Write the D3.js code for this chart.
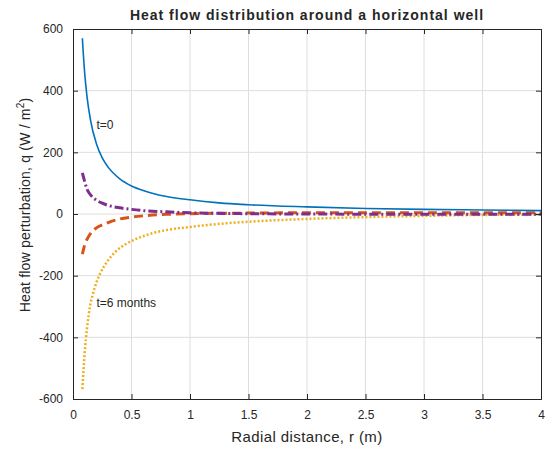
<!DOCTYPE html>
<html>
<head>
<meta charset="utf-8">
<script src="https://cdn.jsdelivr.net/npm/d3@7"></script>
<style>
  body { margin: 0; background: #fff; }
  text { font-family: "Liberation Sans", Arial, sans-serif; fill: #262626; }
</style>
</head>
<body>
<svg id="chart" width="552" height="454"></svg>
<script>
// values
var xTicks = [0, 0.5, 1, 1.5, 2, 2.5, 3, 3.5, 4];
var yTicks = [-600, -400, -200, 0, 200, 400, 600];

var rBlue = [0.08, 0.1, 0.12, 0.15, 0.2, 0.25, 0.3, 0.4, 0.5, 0.6, 0.7, 0.8, 1, 1.25, 1.5, 2, 2.5, 3, 3.5, 4];
var qBlue = [570, 456, 380, 304, 228, 182, 152, 114, 91, 76, 65, 57, 46, 36, 30, 23, 18, 15, 13, 11];

var rPurple = [0.08, 0.1, 0.12, 0.15, 0.2, 0.25, 0.3, 0.4, 0.5, 0.6, 0.8, 1, 1.5, 2, 3, 4];
var qPurple = [133, 105, 80, 62, 45, 35, 28, 20, 15, 11, 7, 4, 1, 0, -1, -1];

var rRed = [0.08, 0.1, 0.13, 0.16, 0.2, 0.26, 0.3, 0.4, 0.5, 0.6, 0.8, 1, 1.5, 2, 3, 4];
var qRed = [-130, -100, -75, -58, -45, -34, -28, -16, -10, -6, -1, 1, 3, 4, 4, 4];

var rYellow = [0.08, 0.1, 0.12, 0.145, 0.17, 0.2, 0.23, 0.3, 0.37, 0.45, 0.52, 0.6, 0.7, 0.8, 1, 1.25, 1.5, 1.75, 2, 2.5, 3, 3.5, 4];
var qYellow = [-568, -450, -370, -300, -260, -222, -195, -150, -120, -98, -84, -72, -60, -52, -42, -32, -25, -20, -16, -10, -6, -3, -2];

var margin = { left: 73, right: 11, top: 29, bottom: 55 },
    width = 552 - margin.left - margin.right,
    height = 454 - margin.top - margin.bottom;

var svg = d3.select('#chart');
var g = svg.append('g').attr('transform', 'translate(' + margin.left + ',' + margin.top + ')');

var x = d3.scaleLinear().domain([0, 4]).range([0, width]);
var y = d3.scaleLinear().domain([-600, 600]).range([height, 0]);

// plain hyphen minus, like the original
function fmt(d) { return String(d); }

// grid
g.append('g').selectAll('line').data(xTicks.slice(1, -1)).enter().append('line')
  .attr('x1', function(d) { return x(d); }).attr('x2', function(d) { return x(d); })
  .attr('y1', 0).attr('y2', height)
  .attr('stroke', '#dedede').attr('stroke-width', 1);
g.append('g').selectAll('line').data(yTicks.slice(1, -1)).enter().append('line')
  .attr('y1', function(d) { return y(d); }).attr('y2', function(d) { return y(d); })
  .attr('x1', 0).attr('x2', width)
  .attr('stroke', '#dedede').attr('stroke-width', 1);

// curves
var series = [
  { r: rYellow, q: qYellow, color: '#EDB120', w: 2.5, dash: '2,2' },
  { r: rRed, q: qRed, color: '#D95319', w: 3, dash: '9,5' },
  { r: rPurple, q: qPurple, color: '#7E2F8E', w: 3, dash: '9,3,2,3' },
  { r: rBlue, q: qBlue, color: '#0072BD', w: 1.6, dash: null }
];

var line = d3.line()
  .x(function(d) { return x(d[0]); })
  .y(function(d) { return y(d[1]); })
  .curve(d3.curveMonotoneX);

series.forEach(function(s) {
  var pts = s.r.map(function(r, i) { return [r, s.q[i]]; });
  g.append('path').datum(pts)
    .attr('d', line)
    .attr('fill', 'none')
    .attr('stroke', s.color)
    .attr('stroke-width', s.w)
    .attr('stroke-dasharray', s.dash);
});

// axes
var ax = g.append('g').attr('transform', 'translate(0,' + height + ')')
  .call(d3.axisBottom(x).tickValues(xTicks).tickSize(-5).tickPadding(11).tickFormat(fmt));
var ay = g.append('g')
  .call(d3.axisLeft(y).tickValues(yTicks).tickSize(-5).tickPadding(10).tickFormat(fmt));
var axTop = g.append('g')
  .call(d3.axisTop(x).tickValues(xTicks).tickSize(-5).tickFormat(''));
var ayRight = g.append('g').attr('transform', 'translate(' + width + ',0)')
  .call(d3.axisRight(y).tickValues(yTicks).tickSize(-5).tickFormat(''));

[ax, ay, axTop, ayRight].forEach(function(a) {
  a.selectAll('path').attr('stroke', '#262626');
  a.selectAll('line').attr('stroke', '#262626');
  a.selectAll('text').attr('font-size', 12).attr('fill', '#262626')
    .style('font-family', '"Liberation Sans", Arial, sans-serif');
});

// title and labels
svg.append('text').attr('x', 307).attr('y', 20)
  .attr('text-anchor', 'middle').attr('font-size', 14).attr('font-weight', 'bold')
  .attr('letter-spacing', 1)
  .text('Heat flow distribution around a horizontal well');

svg.append('text').attr('x', 307).attr('y', 442)
  .attr('text-anchor', 'middle').attr('font-size', 15).attr('letter-spacing', 0.4)
  .text('Radial distance, r (m)');

var yl = svg.append('text')
  .attr('transform', 'translate(30,205) rotate(-90)')
  .attr('text-anchor', 'middle').attr('font-size', 14).attr('letter-spacing', 0.2);
yl.append('tspan').text('Heat flow perturbation, q (W / m');
yl.append('tspan').attr('font-size', 10).attr('dy', -6).text('2');
yl.append('tspan').attr('dy', 6).text(')');

g.append('text').attr('x', x(0.2)).attr('y', y(275)).attr('font-size', 12).text('t=0');
g.append('text').attr('x', x(0.2)).attr('y', y(-302)).attr('font-size', 12).text('t=6 months');
</script>
</body>
</html>
